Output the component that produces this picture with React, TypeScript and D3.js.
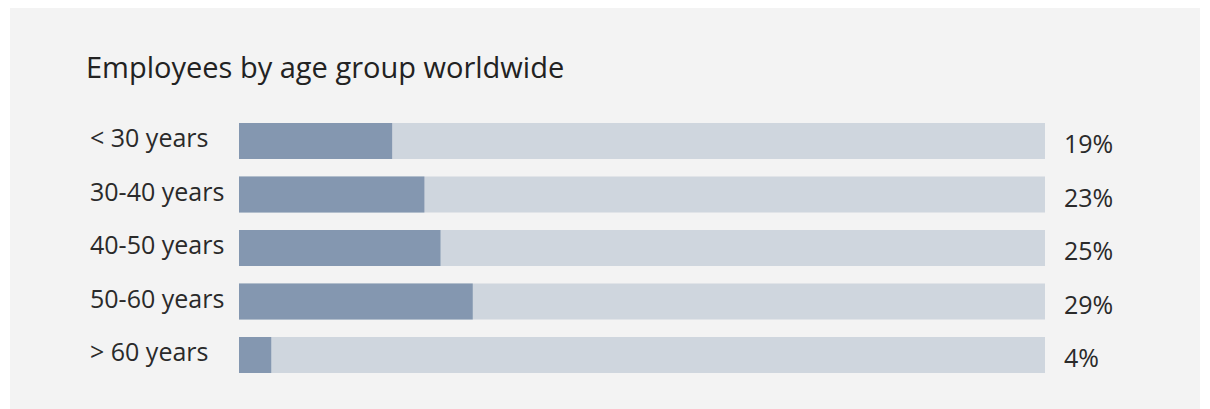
import React from "react";
import * as d3 from "d3";

const title = "Employees by age group worldwide";
const categories = ["< 30 years", "30-40 years", "40-50 years", "50-60 years", "> 60 years"];
const values = [19, 23, 25, 29, 4];
const valueLabels = ["19%", "23%", "25%", "29%", "4%"];

const W = 1210;
const H = 409;
const FONT = "'Open Sans', sans-serif";

export default function App() {
  const x = d3.scaleLinear().domain([0, 100]).range([239, 1045]);
  const bh = 36;
  const yPos = d3.scalePoint<string>().domain(categories).range([123, 337]);

  return (
    <svg
      width={W}
      height={H}
      style={{ position: "absolute", left: 0, top: 0, display: "block" }}
    >
      <rect x={10} y={8} width={1190} height={H - 8} fill="#f3f3f3" />
      <text x={86} y={78} fontFamily={FONT} fontSize={29} fill="#222">
        {title}
      </text>
      {categories.map((c, i) => {
        const yy = yPos(c)!;
        return (
          <g key={c}>
            <rect x={x(0)} y={yy} width={x(100) - x(0)} height={bh} fill="#cfd6de" />
            <rect x={x(0)} y={yy} width={x(values[i]) - x(0)} height={bh} fill="#8497b0" />
            <text
              x={90}
              y={yy + bh / 2 - 3}
              dy="0.36em"
              fontFamily={FONT}
              fontSize={25}
              fill="#2a2a2a"
            >
              {c}
            </text>
            <text
              x={1064}
              y={yy + bh / 2 + 3}
              dy="0.36em"
              fontFamily={FONT}
              fontSize={25}
              fill="#2a2a2a"
            >
              {valueLabels[i]}
            </text>
          </g>
        );
      })}
    </svg>
  );
}
